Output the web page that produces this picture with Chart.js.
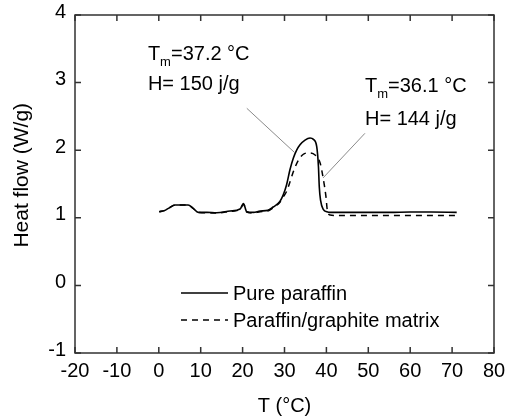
<!DOCTYPE html>
<html>
<head>
<meta charset="utf-8">
<script src="https://cdn.jsdelivr.net/npm/chart.js@4.4.0/dist/chart.umd.min.js"></script>
<style>
  body { margin: 0; background: #fff; }
  #wrap { width: 506px; height: 418px; }
</style>
</head>
<body>
<div id="wrap"><canvas id="dsc" width="506" height="418"></canvas></div>
<script>
// Data
const tempPure = [0.1, 1.5, 2.3, 3.9, 5.5, 7.0, 8.2, 9.4, 11.5, 13.8, 17.0, 19.4, 20.2, 21.0, 22.6, 24.2, 26.0, 27.3, 28.9, 29.7, 30.5, 31.3, 32.1, 32.9, 33.7, 34.9, 36.1, 36.9, 37.7, 38.1, 38.3, 38.6, 39.3, 40.1, 40.9, 45, 50, 55, 60, 65, 71.1];
const flowPure = [1.09, 1.11, 1.14, 1.19, 1.19, 1.19, 1.14, 1.08, 1.08, 1.075, 1.10, 1.13, 1.21, 1.09, 1.08, 1.10, 1.11, 1.16, 1.24, 1.34, 1.49, 1.71, 1.88, 2.0, 2.08, 2.15, 2.18, 2.16, 2.05, 1.76, 1.46, 1.26, 1.12, 1.09, 1.08, 1.08, 1.08, 1.08, 1.085, 1.085, 1.08];

const tempMatrix = [0.1, 1.5, 2.3, 3.9, 5.5, 7.0, 8.2, 9.4, 11.5, 13.8, 17.0, 19.4, 20.2, 21.0, 22.6, 24.2, 26.0, 27.3, 28.9, 29.7, 30.5, 31.3, 32.1, 33.3, 34.5, 35.7, 37.3, 38.5, 39.3, 39.9, 40.2, 40.9, 42, 45, 50, 55, 60, 65, 71.1];
const flowMatrix = [1.09, 1.11, 1.14, 1.19, 1.19, 1.19, 1.14, 1.08, 1.075, 1.07, 1.095, 1.125, 1.20, 1.085, 1.07, 1.09, 1.10, 1.15, 1.23, 1.31, 1.39, 1.53, 1.68, 1.85, 1.94, 1.96, 1.93, 1.81, 1.56, 1.31, 1.12, 1.04, 1.035, 1.035, 1.035, 1.035, 1.035, 1.035, 1.035];

const seriesLabels = ['Pure paraffin', 'Paraffin/graphite matrix'];
const xTicks = [-20, -10, 0, 10, 20, 30, 40, 50, 60, 70, 80];
const yTicks = [-1, 0, 1, 2, 3, 4];

// annotation text, anchored at data coords
const notes = [
  { x: -2.6, y: 3.33, y2: 2.89, tm: '=37.2 °C', h: 'H= 150 j/g' },
  { x: 49.2, y: 2.86, y2: 2.37, tm: '=36.1 °C', h: 'H= 144 j/g' }
];
// leader lines [x1, y1, x2, y2] in data coords
const leaders = [
  [21.0, 2.62, 32.5, 1.96],
  [49.2, 2.25, 39.2, 1.59]
];

const FONT = '"Liberation Sans", Arial, sans-serif';

function toPoints(xs, ys) {
  return xs.map((x, i) => ({ x: x, y: ys[i] }));
}

// no extra room for labels that stick out past the plot
function noOverhang(s) {
  s.paddingLeft = 0;
  s.paddingRight = 0;
  s.paddingTop = 0;
  s.paddingBottom = 0;
}

const extras = {
  id: 'extras',
  afterDraw(chart) {
    const ctx = chart.ctx;
    const a = chart.chartArea;
    const xs = chart.scales.x;
    const ys = chart.scales.y;
    const tl = 6;
    ctx.save();

    // box with inward ticks on all four sides
    ctx.strokeStyle = 'rgb(50,50,50)';
    ctx.lineWidth = 1.5;
    ctx.strokeRect(a.left, a.top, a.right - a.left, a.bottom - a.top);
    ctx.beginPath();
    xTicks.forEach(v => {
      const px = xs.getPixelForValue(v);
      ctx.moveTo(px, a.bottom); ctx.lineTo(px, a.bottom - tl);
      ctx.moveTo(px, a.top); ctx.lineTo(px, a.top + tl);
    });
    yTicks.forEach(v => {
      const py = ys.getPixelForValue(v);
      ctx.moveTo(a.left, py); ctx.lineTo(a.left + tl, py);
      ctx.moveTo(a.right, py); ctx.lineTo(a.right - tl, py);
    });
    ctx.stroke();

    // leader lines
    ctx.strokeStyle = '#8a8a8a';
    ctx.lineWidth = 1;
    ctx.beginPath();
    leaders.forEach(l => {
      ctx.moveTo(xs.getPixelForValue(l[0]), ys.getPixelForValue(l[1]));
      ctx.lineTo(xs.getPixelForValue(l[2]), ys.getPixelForValue(l[3]));
    });
    ctx.stroke();

    // annotation text
    ctx.fillStyle = '#000';
    ctx.textAlign = 'left';
    ctx.textBaseline = 'alphabetic';
    notes.forEach(n => {
      let px = xs.getPixelForValue(n.x);
      const py = ys.getPixelForValue(n.y);
      ctx.font = '20px ' + FONT;
      ctx.fillText('T', px, py);
      px += ctx.measureText('T').width;
      ctx.font = '13px ' + FONT;
      ctx.fillText('m', px, py + 6);
      px += ctx.measureText('m').width;
      ctx.font = '20px ' + FONT;
      ctx.fillText(n.tm, px, py);
      ctx.fillText(n.h, xs.getPixelForValue(n.x), ys.getPixelForValue(n.y2));
    });

    // legend
    ctx.font = '20px ' + FONT;
    ctx.textBaseline = 'middle';
    chart.data.datasets.forEach((ds, i) => {
      const ly = a.top + 278 + i * 27;
      const lx = a.left + 106;
      ctx.strokeStyle = ds.borderColor;
      ctx.lineWidth = ds.borderWidth;
      ctx.setLineDash(ds.borderDash || []);
      ctx.beginPath();
      ctx.moveTo(lx, ly); ctx.lineTo(lx + 47, ly);
      ctx.stroke();
      ctx.setLineDash([]);
      ctx.fillText(ds.label, lx + 52, ly + 1);
    });
    ctx.restore();
  }
};

new Chart(document.getElementById('dsc'), {
  type: 'line',
  data: {
    datasets: [
      {
        label: seriesLabels[0],
        data: toPoints(tempPure, flowPure),
        borderColor: '#000',
        borderWidth: 1.6,
        pointRadius: 0,
        cubicInterpolationMode: 'monotone'
      },
      {
        label: seriesLabels[1],
        data: toPoints(tempMatrix, flowMatrix),
        borderColor: '#000',
        borderWidth: 1.5,
        borderDash: [6, 5],
        pointRadius: 0,
        cubicInterpolationMode: 'monotone'
      }
    ]
  },
  options: {
    responsive: false,
    animation: false,
    layout: { padding: { top: 15, right: 12, left: 0, bottom: 0 } },
    plugins: {
      legend: { display: false },
      tooltip: { enabled: false }
    },
    scales: {
      x: {
        type: 'linear',
        min: -20,
        max: 80,
        afterBuildTicks: s => { s.ticks = xTicks.map(v => ({ value: v })); },
        afterFit: s => { s.height = 65; noOverhang(s); },
        grid: { display: false, drawTicks: false },
        border: { display: false },
        ticks: { color: '#000', padding: 6, font: { family: FONT, size: 20 }, maxRotation: 0 },
        title: { display: true, text: 'T (°C)', color: '#000', font: { family: FONT, size: 20 }, padding: { top: 0, bottom: 0 } }
      },
      y: {
        type: 'linear',
        min: -1,
        max: 4,
        afterBuildTicks: s => { s.ticks = yTicks.map(v => ({ value: v })); },
        afterFit: s => { s.width = 75; noOverhang(s); },
        grid: { display: false, drawTicks: false },
        border: { display: false },
        ticks: { color: '#000', padding: 9, labelOffset: -3, font: { family: FONT, size: 20 } },
        // leading spaces nudge the label up a little, as in the original
        title: { display: true, text: '   Heat flow (W/g)', color: '#000', font: { family: FONT, size: 21 }, padding: { top: 10, bottom: 0 } }
      }
    }
  },
  plugins: [extras]
});
</script>
</body>
</html>
